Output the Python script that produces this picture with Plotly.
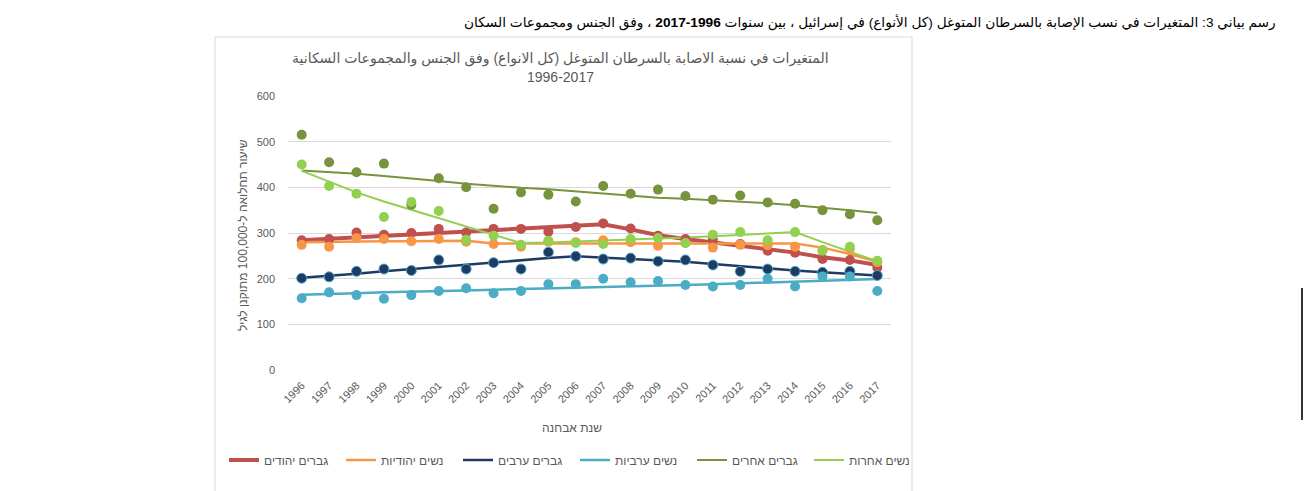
import plotly.graph_objects as go

years = list(range(1996, 2018))
year_labels = [str(y) for y in years]

series_names = ["גברים יהודים", "נשים יהודיות", "גברים ערבים", "נשים ערביות", "גברים אחרים", "נשים אחרות"]

# observed rates (dots)
jewish_men = [284, 287, 301, 296, 300, 309, 301, 309, 309, 303, 313, 321, 310, 294, 287, 285, 276, 261, 257, 243, 241, 224]
jewish_women = [274, 270, 289, 287, 282, 287, 281, 276, 270, 281, 280, 284, 280, 272, 278, 268, 274, 273, 270, 263, 266, 236]
arab_men = [201, 204, 216, 221, 218, 241, 221, 235, 221, 258, 249, 243, 245, 238, 241, 230, 216, 221, 216, 214, 216, 207]
arab_women = [157, 170, 164, 156, 164, 173, 179, 168, 173, 188, 188, 200, 192, 195, 186, 183, 186, 200, 183, 205, 205, 173]
other_men = [515, 455, 433, 452, 362, 420, 400, 353, 389, 384, 369, 403, 386, 395, 381, 373, 382, 367, 364, 350, 341, 328]
other_women = [450, 403, 386, 335, 368, 348, 285, 294, 274, 283, 278, 276, 287, 289, 278, 296, 302, 284, 302, 261, 270, 239]

# modelled trend lines
jewish_men_fit = [284, 287, 290, 293, 297, 300, 303, 306, 309, 312, 315, 319, 308, 295, 287, 280, 273, 265, 257, 247, 240, 230]
jewish_women_fit = [280, 281, 281, 282, 282, 283, 283, 277, 277, 277, 277, 277, 277, 277, 277, 277, 277, 277, 277, 268, 254, 237]
arab_men_fit = [202, 206, 211, 216, 221, 226, 231, 236, 241, 245, 249, 246, 243, 240, 237, 232, 227, 222, 218, 214, 210, 207]
arab_women_fit = [165, 166, 168, 170, 171, 173, 174, 176, 177, 179, 180, 182, 183, 185, 186, 188, 190, 191, 193, 195, 197, 199]
other_men_fit = [437, 434, 430, 425, 420, 414, 408, 403, 399, 396, 391, 386, 381, 377, 375, 372, 369, 365, 361, 356, 350, 344]
other_women_fit = [436, 412, 389, 369, 351, 333, 315, 296, 278, 279, 281, 283, 285, 287, 290, 293, 296, 299, 302, 280, 259, 238]

y_ticks = [0, 100, 200, 300, 400, 500, 600]

outer_title = "رسم بياني 3: المتغيرات في نسب الإصابة بالسرطان المتوغل (كل الأنواع) في إسرائيل ، بين سنوات <b>1996-2017</b> ، وفق الجنس ومجموعات السكان"
chart_title_1 = "المتغيرات في نسبة الاصابة بالسرطان المتوغل (كل الانواع) وفق الجنس والمجموعات السكانية"
chart_title_2 = "1996-2017"
y_title = "שיעור תחלואה ל-100,000 מתוקנן לגיל"
x_title = "שנת אבחנה"

colors = ["#C0504D", "#F79646", "#1F3B63", "#4BACC6", "#77933C", "#92D050"]
widths = [4, 2.5, 2.5, 2.5, 2, 2]
obs = [jewish_men, jewish_women, arab_men, arab_women, other_men, other_women]
fits = [jewish_men_fit, jewish_women_fit, arab_men_fit, arab_women_fit, other_men_fit, other_women_fit]

W, H = 1305, 491
L, R, T, B = 288, 891, 96, 370
PW, PH = R - L, B - T

def px(x):
    return (x - L) / PW

def py(y):
    return (B - y) / PH

fig = go.Figure()
for name, c, w, f in zip(series_names, colors, widths, fits):
    fig.add_trace(go.Scatter(x=years, y=f, mode="lines", name=name,
                             line=dict(color=c, width=w), showlegend=True))
for name, c, o in zip(series_names, colors, obs):
    mline = dict(width=1, color="#4BACC6") if c == "#1F3B63" else dict(width=0)
    fig.add_trace(go.Scatter(x=years, y=o, mode="markers", name=name,
                             marker=dict(color=c, size=10, line=mline), showlegend=False))

font_fam = "Liberation Sans, Arial, DejaVu Sans, sans-serif"
grey = "#595959"

fig.update_layout(
    width=W, height=H,
    margin=dict(l=L, r=W - R, t=T, b=H - B, pad=0),
    paper_bgcolor="white", plot_bgcolor="white",
    font=dict(family=font_fam, color=grey, size=11),
    xaxis=dict(range=[1995.5, 2017.5], tickmode="array", tickvals=years, ticktext=year_labels,
               tickangle=-45, showgrid=False, zeroline=False, showline=False, ticks="",
               tickfont=dict(size=11, color=grey), ticklabelstandoff=6),
    yaxis=dict(range=[0, 600], tickmode="array", tickvals=y_ticks, showgrid=True, gridcolor="#D9D9D9",
               gridwidth=1, zeroline=False, showline=False, ticks="",
               tickfont=dict(size=11, color=grey), ticklabelstandoff=12),
    legend=dict(orientation="h", x=px(224), xanchor="left", y=py(460), yanchor="middle",
                font=dict(size=12, color=grey), entrywidth=72, entrywidthmode="pixels",
                bgcolor="rgba(0,0,0,0)"),
    shapes=[
        dict(type="rect", xref="paper", yref="paper", x0=px(215), x1=px(912), y0=py(37), y1=py(495),
             line=dict(color="#D9D9D9", width=1), layer="below"),
        dict(type="line", xref="paper", yref="paper", x0=px(1302), x1=px(1302), y0=py(288), y1=py(420),
             line=dict(color="#333333", width=2)),
    ],
    annotations=[
        dict(text=outer_title, xref="paper", yref="paper", x=px(1278), y=py(22), xanchor="right",
             yanchor="middle", showarrow=False, font=dict(size=13.7, color="black", family=font_fam)),
        dict(text=chart_title_1, xref="paper", yref="paper", x=px(560), y=py(58), xanchor="center",
             yanchor="middle", showarrow=False, font=dict(size=14, color=grey)),
        dict(text=chart_title_2, xref="paper", yref="paper", x=px(560), y=py(77), xanchor="center",
             yanchor="middle", showarrow=False, font=dict(size=14, color=grey)),
        dict(text=y_title, xref="paper", yref="paper", x=px(243), y=py(235), xanchor="center",
             yanchor="middle", textangle=-90, showarrow=False, font=dict(size=12, color=grey)),
        dict(text=x_title, xref="paper", yref="paper", x=px(572), y=py(428), xanchor="center",
             yanchor="middle", showarrow=False, font=dict(size=12, color=grey)),
    ],
)

fig.write_html("out.html", config={"displayModeBar": False},
               post_script="document.body.style.margin='0';")
